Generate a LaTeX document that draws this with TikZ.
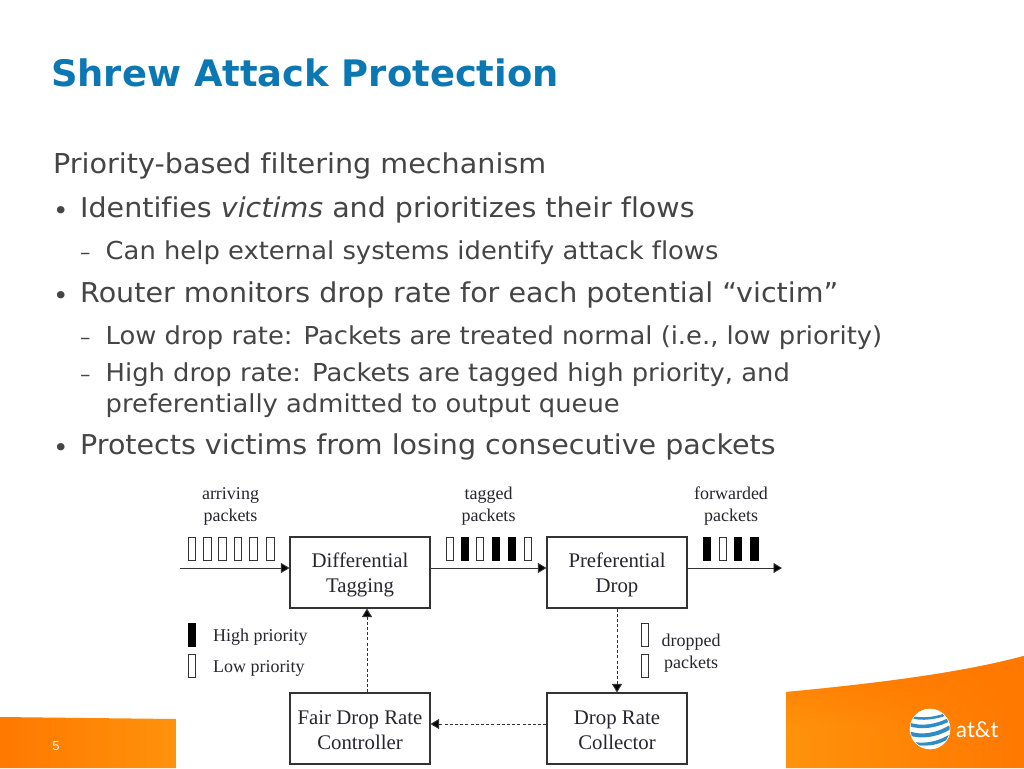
\documentclass[tikz,border=0pt]{standalone}
\usepackage{fontspec}
\setmainfont[FakeStretch=1.045,Ligatures=NoCommon]{DejaVu Sans}
\newfontfamily\titlefont[FakeStretch=1.01,Ligatures=NoCommon]{DejaVu Sans}
\newfontfamily\diagfont{Liberation Serif}
\newfontfamily\logofont{Lato}
\newfontfamily\pagefont{Liberation Sans}
\usetikzlibrary{arrows.meta,calc,fadings}
\definecolor{titleblue}{HTML}{0B77B3}
\definecolor{bodygrey}{HTML}{454545}
\definecolor{orA}{HTML}{FF7800}
\definecolor{orB}{HTML}{FF920C}
\definecolor{linegrey}{HTML}{333333}
\definecolor{difftext}{HTML}{26262E}
\definecolor{globeblue}{HTML}{2F8CC4}
\newcommand{\fs}[1]{\fontsize{#1}{#1}\selectfont}
\newcommand{\fsb}[2]{\fontsize{#1}{#2}\selectfont}
\tikzset{
  txt/.style={anchor=base west,inner sep=0pt,text=bodygrey},
  lvlz/.style={txt,font=\fs{27.4}},
  lvla/.style={txt,font=\fs{27.3}},
  lvlb/.style={txt,font=\fs{24.7}},
  bul/.style={txt,font=\fs{25}},
  dsh/.style={txt,font=\fs{20}},
  procbox/.style={draw=linegrey,line width=1.1pt,minimum width=140pt,minimum height=71pt,inner sep=0pt,align=center,text=difftext,font=\diagfont\fsb{20.8}{25}},
  lab/.style={inner sep=0pt,align=center,text=difftext,font=\diagfont\fsb{18}{22}},
  leglab/.style={anchor=base west,inner sep=0pt,text=difftext,font=\diagfont\fs{18}},
  pktw/.style={draw=linegrey,line width=1pt,fill=white,minimum width=7.5pt,minimum height=23pt,inner sep=0pt},
  pktb/.style={draw=black,line width=1pt,fill=black,minimum width=7.5pt,minimum height=23pt,inner sep=0pt},
  solidarrow/.style={draw=linegrey,line width=0.9pt,-{Triangle[length=8.5pt,width=10pt,fill=black]}},
  dasharrow/.style={draw=linegrey,line width=1pt,dash pattern=on 3pt off 2.2pt,-{Triangle[length=8.5pt,width=10pt,fill=black]}},
}
\newcommand{\lowerline}[1]{\rule{0pt}{#1pt}}
\begin{document}
\begin{tikzpicture}[x=1pt,y=-1pt]
\useasboundingbox (0,0) rectangle (1024,768);
\fill[white] (0,0) rectangle (1024,768);
% orange bands
\shade[left color=orA,right color=orB] (0,717) -- (176,719) -- (176,768) -- (0,768) -- cycle;
\begin{scope}
\clip (786,692) .. controls (880,683) and (960,673) .. (1024,656) -- (1024,768) -- (786,768) -- cycle;
\shade[left color=orB,right color=orA] (786,650) rectangle (1024,768);
\fill[orA,path fading=south] (786,650) rectangle (1024,725);
\end{scope}
% logo
\begin{scope}
\clip (930,729) circle (20);
\fill[white] (910,709) rectangle (950,749);
\foreach \a/\b/\w in {713/709/2.5,721/715/3.5,730/723/4,739/732/3.5,747/741/2.5}{
  \draw[globeblue,line width=\w pt] (908,\a+3) .. controls (922,\a+8) and (938,\a+5) .. (952,\b+3);
}
\fill[white,opacity=.45] (910,745) rectangle (950,750);
\end{scope}
\draw[white,line width=.6pt] (930,729) circle (20);
\node[anchor=base west,inner sep=0pt,text=white,font=\logofont\fs{22}] (logo) at (956,737) {at\&t};
\node[anchor=base,inner sep=0pt,text=white,font=\pagefont\fs{13}] (pageno) at (56,750) {5};
% title and text
\node[anchor=base west,inner sep=0pt,text=titleblue,font=\titlefont\bfseries\fs{36.5}] (title) at (51,86) {Shrew Attack Protection};
\node[lvlz] (t0) at (53,173) {Priority-based filtering mechanism};
\node[bul] (b1) at (53,219) {•};
\node[lvla] (t1) at (80,217) {Identifies \textit{victims} and prioritizes their flows};
\node[dsh] (d1) at (80,259) {–};
\node[lvlb] (t2) at (105.5,259) {Can help external systems identify attack flows};
\node[bul] (b2) at (53,304) {•};
\node[lvla] (t3) at (80,302) {Router monitors drop rate for each potential “victim”};
\node[dsh] (d2) at (80,344) {–};
\node[lvlb] (t4) at (105.5,344) {Low drop rate: Packets are treated normal (i.e., low priority)};
\node[dsh] (d3) at (80,381) {–};
\node[lvlb] (t5) at (105.5,381) {High drop rate: Packets are tagged high priority, and};
\node[lvlb] (t6) at (105.5,412) {preferentially admitted to output queue};
\node[bul] (b3) at (53,456) {•};
\node[lvla] (t7) at (80,454) {Protects victims from losing consecutive packets};
% diagram backing
\fill[white] (176,480) rectangle (786,768);
% boxes
\node[procbox] (dt) at (360,572.5) {\lowerline{20}Differential\\Tagging};
\node[procbox] (pd) at (617,572.5) {\lowerline{20}Preferential\\Drop};
\node[procbox] (fd) at (360,728.5) {\lowerline{17}Fair Drop Rate\\Controller};
\node[procbox] (dc) at (617,728.5) {\lowerline{17}Drop Rate\\Collector};
% labels
\node[lab] (l1) at (230.5,506) {arriving\\packets};
\node[lab] (l2) at (488.5,506) {tagged\\packets};
\node[lab] (l3) at (731,506) {forwarded\\packets};
\node[lab] (l4) at (691,653) {dropped\\packets};
\node[leglab] (l5) at (213,641) {High priority};
\node[leglab] (l6) at (213,672) {Low priority};
% packets
\foreach \i/\x in {1/192,2/207.5,3/222.5,4/238,5/253.5,6/270.5}
  \node[pktw] (a\i) at (\x,548.5) {};
\node[pktw] (g1) at (450,548.5) {};
\node[pktb] (g2) at (465,548.5) {};
\node[pktw] (g3) at (480,548.5) {};
\node[pktb] (g4) at (496,548.5) {};
\node[pktb] (g5) at (512,548.5) {};
\node[pktw] (g6) at (528,548.5) {};
\node[pktb] (f1) at (707,548.5) {};
\node[pktw] (f2) at (723,548.5) {};
\node[pktb] (f3) at (738,548.5) {};
\node[pktb] (f4) at (754.5,548.5) {};
\node[pktb] (h1) at (192,635) {};
\node[pktw] (h2) at (192,665.5) {};
\node[pktw] (p1) at (645,634.5) {};
\node[pktw] (p2) at (645,665.5) {};
% connectors
\coordinate (instart) at (180,568);
\coordinate (outend) at (782,568);
\draw[solidarrow] (instart) -- ([yshift=4.5pt]dt.west);
\draw[solidarrow] ([yshift=4.5pt]dt.east) -- ([yshift=4.5pt]pd.west);
\draw[solidarrow] ([yshift=4.5pt]pd.east) -- (outend);
\draw[dasharrow] (pd.south) -- (dc.north);
\draw[dasharrow] ([yshift=4.5pt]dc.west) -- ([yshift=4.5pt]fd.east);
\draw[dasharrow] ([xshift=7pt]fd.north) -- ([xshift=7pt]dt.south);
\end{tikzpicture}
\end{document}
